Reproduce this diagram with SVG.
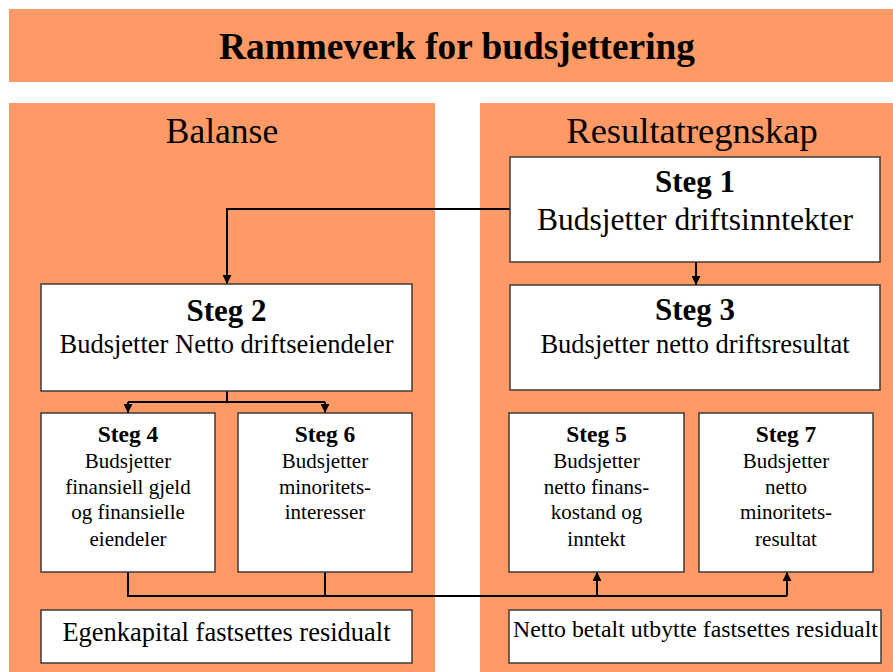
<svg xmlns="http://www.w3.org/2000/svg" width="893" height="672" viewBox="0 0 893 672">
<defs>
<style>
.panel{fill:#FF9966}
.box{fill:#ffffff;stroke:#3a3a3a;stroke-width:1.5}
text{font-family:"Liberation Serif","Times New Roman",serif;fill:#000;text-anchor:middle}
.b{font-weight:bold}
.con{fill:none;stroke:#000;stroke-width:2}
</style>
<marker id="ah" viewBox="0 0 10 10" refX="10" refY="5" markerWidth="9" markerHeight="9" markerUnits="userSpaceOnUse" orient="auto">
<path d="M0,0 L10,5 L0,10 z" fill="#000"/>
</marker>
</defs>
<rect width="893" height="672" fill="#ffffff"/>
<g id="title">
<rect class="panel" x="9" y="9" width="884" height="73"/>
<text class="b" x="457" y="59" font-size="37.3">Rammeverk for budsjettering</text>
</g>
<g id="panel-balanse">
<rect class="panel" x="9" y="103" width="426" height="569"/>
<text x="222" y="143" font-size="35.5">Balanse</text>
</g>
<g id="panel-resultat">
<rect class="panel" x="480" y="103" width="413" height="569"/>
<text x="692" y="143" font-size="36.5">Resultatregnskap</text>
</g>
<g id="connectors">
<path class="con" d="M510,209 H227 V284" marker-end="url(#ah)"/>
<path class="con" d="M696,262 V285" stroke-width="1.5" marker-end="url(#ah)"/>
<path class="con" d="M227,391 V402"/>
<path class="con" d="M128,402 H325"/>
<path class="con" d="M128,402 V413" marker-end="url(#ah)"/>
<path class="con" d="M325,402 V413" marker-end="url(#ah)"/>
<path class="con" d="M128,572 V596 H787"/>
<path class="con" d="M325,572 V596"/>
<path class="con" d="M597,596 V572" marker-end="url(#ah)"/>
<path class="con" d="M787,596 V572" marker-end="url(#ah)"/>
</g>
<g id="steg1">
<rect class="box" x="510" y="157" width="370" height="105"/>
<text class="b" x="695" y="192" font-size="31">Steg 1</text>
<text x="695" y="230" font-size="31.5">Budsjetter driftsinntekter</text>
</g>
<g id="steg2">
<rect class="box" x="41" y="284" width="371" height="107"/>
<text class="b" x="226.5" y="321" font-size="31">Steg 2</text>
<text x="226.5" y="353" font-size="26.5">Budsjetter Netto driftseiendeler</text>
</g>
<g id="steg3">
<rect class="box" x="510" y="285" width="370" height="105"/>
<text class="b" x="695" y="320" font-size="31">Steg 3</text>
<text x="695" y="353" font-size="26.5">Budsjetter netto driftsresultat</text>
</g>
<g id="steg4">
<rect class="box" x="41" y="413" width="174" height="159"/>
<text class="b" x="128" y="442" font-size="23.5">Steg 4</text>
<text x="128" y="468" font-size="21">Budsjetter</text>
<text x="128" y="494" font-size="21">finansiell gjeld</text>
<text x="128" y="519" font-size="21">og finansielle</text>
<text x="128" y="546" font-size="21">eiendeler</text>
</g>
<g id="steg6">
<rect class="box" x="238" y="413" width="174" height="159"/>
<text class="b" x="325" y="442" font-size="23.5">Steg 6</text>
<text x="325" y="468" font-size="21">Budsjetter</text>
<text x="325" y="494" font-size="21">minoritets-</text>
<text x="325" y="519" font-size="21">interesser</text>
</g>
<g id="steg5">
<rect class="box" x="509" y="413" width="175" height="159"/>
<text class="b" x="596.5" y="442" font-size="23.5">Steg 5</text>
<text x="596.5" y="468" font-size="21">Budsjetter</text>
<text x="596.5" y="494" font-size="21">netto finans-</text>
<text x="596.5" y="519" font-size="21">kostand og</text>
<text x="596.5" y="546" font-size="21">inntekt</text>
</g>
<g id="steg7">
<rect class="box" x="699" y="413" width="174" height="159"/>
<text class="b" x="786" y="442" font-size="23.5">Steg 7</text>
<text x="786" y="468" font-size="21">Budsjetter</text>
<text x="786" y="494" font-size="21">netto</text>
<text x="786" y="519" font-size="21">minoritets-</text>
<text x="786" y="546" font-size="21">resultat</text>
</g>
<g id="egenkapital">
<rect class="box" x="41" y="610" width="371" height="53"/>
<text x="226.5" y="641" font-size="26.5">Egenkapital fastsettes residualt</text>
</g>
<g id="utbytte">
<rect class="box" x="509" y="610" width="372" height="53"/>
<text x="695.5" y="637" font-size="23.8">Netto betalt utbytte fastsettes residualt</text>
</g>
</svg>
